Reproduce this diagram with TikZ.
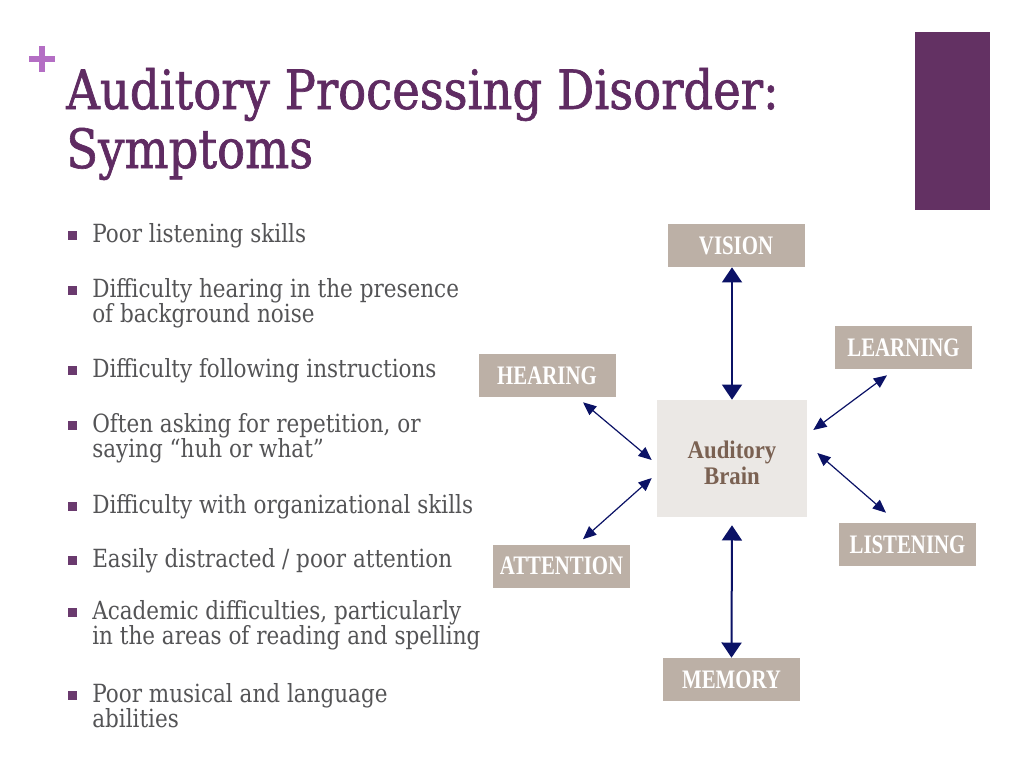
\documentclass[tikz,border=0pt]{standalone}
\usepackage{fontspec}
\setmainfont{DejaVu Serif}[FakeStretch=0.86]
\newfontfamily\titlefont{DejaVu Serif}[FakeStretch=0.86, FakeBold=1.2]
\newfontfamily\boxfont{Liberation Serif}[FakeStretch=0.78]
\newfontfamily\brainfont{Liberation Serif}[FakeStretch=0.9]
\usepackage{xcolor}
\usetikzlibrary{arrows.meta}
\usetikzlibrary{calc}
\definecolor{titlepurple}{HTML}{5F2B62}
\definecolor{pluspurple}{HTML}{B46EC4}
\definecolor{barpurple}{HTML}{633163}
\definecolor{bodygray}{HTML}{545456}
\definecolor{bulletpurple}{HTML}{6A3A6E}
\definecolor{boxtaupe}{HTML}{BCB0A6}
\definecolor{brainfill}{HTML}{EBE8E5}
\definecolor{braintext}{HTML}{7A6152}
\definecolor{arrownavy}{HTML}{0B1266}

\begin{document}
\begin{tikzpicture}[x=0.25mm,y=-0.25mm,
	heading/.style={anchor=base west, inner sep=0pt, text=titlepurple, font=\titlefont\fontsize{38.5}{42}\selectfont},
	tagbox/.style={fill=boxtaupe, minimum width=34.25mm, minimum height=10.75mm, inner sep=0pt,
		text=white, font=\boxfont\bfseries\fontsize{19}{22}\selectfont},
	brainbox/.style={fill=brainfill, minimum width=37.5mm, minimum height=29.25mm, inner sep=0pt},
	brainlabel/.style={yshift=-1mm, align=center, text=braintext, font=\brainfont\bfseries\fontsize{18}{18.5}\selectfont},
	bigarrow/.style={{Triangle[length=3.8mm,width=5mm]}-{Triangle[length=3.8mm,width=5mm]}, line width=0.5mm, arrownavy},
	smallarrow/.style={{Triangle[length=3.3mm,width=2.8mm]}-{Triangle[length=3.3mm,width=2.8mm]}, line width=0.3mm, arrownavy},
	item/.style={anchor=base west, inner sep=0pt, align=left, text=bodygray, font=\fontsize{17.8}{18.1}\selectfont}]
	\useasboundingbox[fill=white] (0,0) rectangle (1024,768);
	% heading
	\fill[barpurple] (915,32) rectangle (990,210);
	\draw[pluspurple, line width=1.3mm] (29,59) -- (55,59) (42,46) -- (42,72);
	\node[heading] (title) at (66,109) {Auditory Processing Disorder:};
	\node[heading] (subtitle) at (66,168) {Symptoms};
	% symptom list (first baseline / lines / text)
	\foreach \y/\n/\txt in {242/1/{Poor listening skills},
		297/2/{Difficulty hearing in the presence\\of background noise},
		377/1/{Difficulty following instructions},
		432/2/{Often asking for repetition, or\\saying ``huh or what''},
		513/1/{Difficulty with organizational skills},
		567/1/{Easily distracted / poor attention},
		619/2/{Academic difficulties, particularly\\in the areas of reading and spelling},
		702/2/{Poor musical and language\\abilities}}{
		\fill[bulletpurple] (68,\y-11) rectangle (77,\y-2);
		\node[item] at (92,{\y+(\n-1)*25.5}) {\txt};
	}
	% diagram
	\node[tagbox] (vision) at (736,245.5) {VISION};
	\node[tagbox] (learning) at (903.5,347.5) {LEARNING};
	\node[tagbox] (hearing) at (547,375.5) {HEARING};
	\node[brainbox, label={[brainlabel]center:Auditory\\Brain}] (brain) at (732,458.5) {};
	\node[tagbox] (listening) at (907.5,544.5) {LISTENING};
	\node[tagbox] (attention) at (561.5,566) {ATTENTION};
	\node[tagbox] (memory) at (731.5,679.5) {MEMORY};
	% arrows
	\draw[bigarrow] (vision.south -| brain.north) -- (brain.north);
	\draw[bigarrow, shorten <=2mm] (brain.south) -- (memory.north);
	\draw[smallarrow] ($(hearing.south)+(36,5)$) -- ($(brain.west)+(-5,1.5)$);
	\draw[smallarrow] ($(attention.north)+(21.5,-5)$) -- ($(brain.west)+(-5,19.5)$);
	\draw[smallarrow] ($(learning.south)+(-16.5,6)$) -- ($(brain.east)+(6,-28.5)$);
	\draw[smallarrow] ($(brain.east)+(10,-5.5)$) -- ($(listening.north)+(-21.5,-10)$);
\end{tikzpicture}
\end{document}
